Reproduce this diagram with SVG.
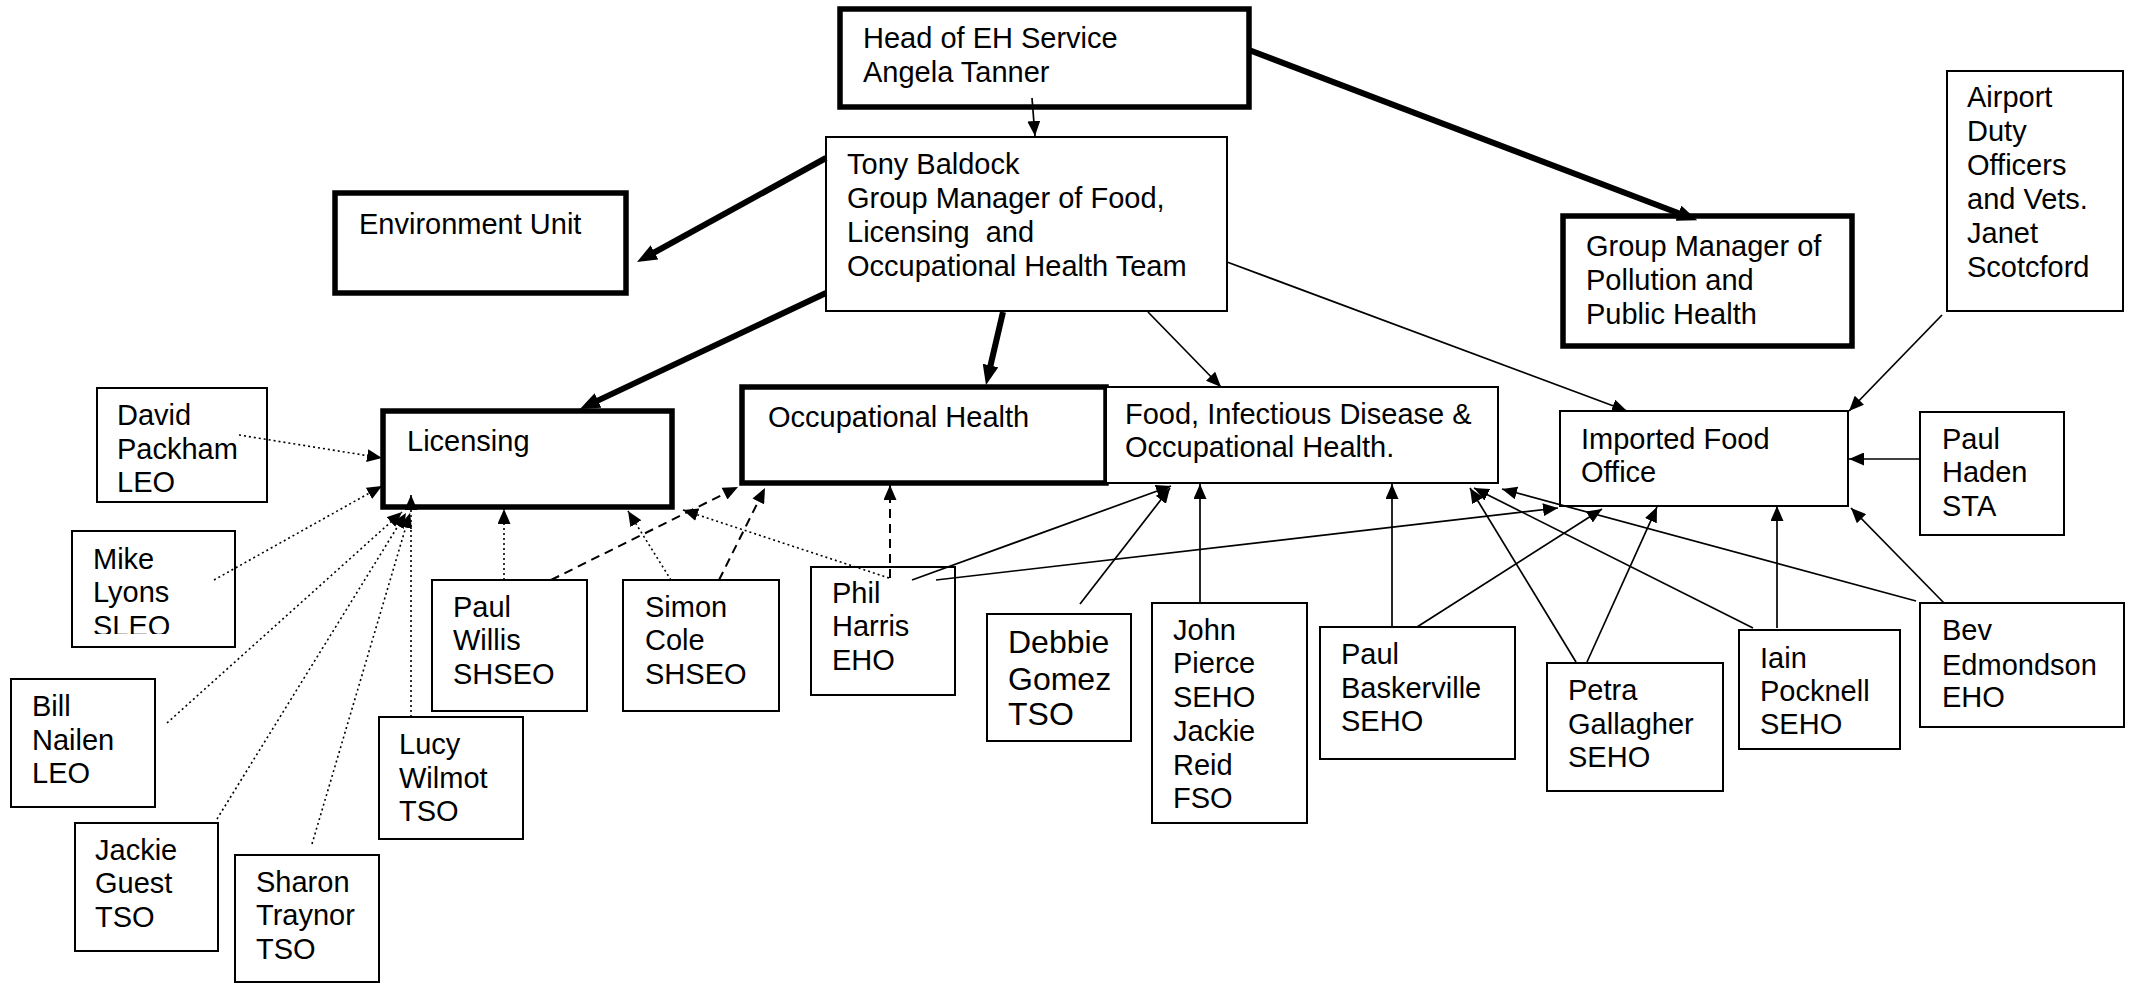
<svg xmlns="http://www.w3.org/2000/svg" width="2132" height="984" viewBox="0 0 2132 984">
<style>
.box{fill:#fff;stroke:#000;stroke-width:2}
.thick{stroke-width:5.5}
text{font-family:"Liberation Sans",Arial,sans-serif;font-size:29px;fill:#000;white-space:pre}
.big{font-size:32px}
.c{fill:none;stroke:#000;stroke-width:1.7}
.th{stroke-width:6}
.dot{stroke-dasharray:2 3;stroke-width:1.6}
.dash{stroke-dasharray:9 6;stroke-width:2}
</style>
<defs>
<marker id="a" markerUnits="userSpaceOnUse" markerWidth="15" markerHeight="13" refX="15" refY="6.5" orient="auto"><path d="M0,0 L15,6.5 L0,13 z"/></marker>
<marker id="b" markerUnits="userSpaceOnUse" markerWidth="20" markerHeight="16" refX="8" refY="8" orient="auto"><path d="M0,0 L20,8 L0,16 z"/></marker>
<clipPath id="mikeclip"><rect x="72" y="531" width="163" height="103"/></clipPath>
</defs>
<rect width="2132" height="984" fill="#fff"/>
<g id="head"><rect class="box thick" x="840" y="9" width="409" height="98"/><text x="863" y="48">Head of EH Service</text><text x="863" y="82">Angela Tanner</text></g>
<g id="tony"><rect class="box" x="826" y="137" width="401" height="174"/><text x="847" y="174">Tony Baldock</text><text x="847" y="208">Group Manager of Food,</text><text x="847" y="242">Licensing  and</text><text x="847" y="276">Occupational Health Team</text></g>
<g id="env"><rect class="box thick" x="335" y="193" width="291" height="100"/><text x="359" y="234">Environment Unit</text></g>
<g id="gmpollution"><rect class="box thick" x="1563" y="216" width="289" height="130"/><text x="1586" y="256">Group Manager of</text><text x="1586" y="290">Pollution and</text><text x="1586" y="324">Public Health</text></g>
<g id="airport"><rect class="box" x="1947" y="71" width="176" height="240"/><text x="1967" y="107">Airport</text><text x="1967" y="141">Duty</text><text x="1967" y="175">Officers</text><text x="1967" y="209">and Vets.</text><text x="1967" y="243">Janet</text><text x="1967" y="277">Scotcford</text></g>
<g id="david"><rect class="box" x="97" y="388" width="170" height="114"/><text x="117" y="425">David</text><text x="117" y="459">Packham</text><text x="117" y="492">LEO</text></g>
<g id="licensing"><rect class="box thick" x="383" y="411" width="289" height="96"/><text x="407" y="451">Licensing</text></g>
<g id="mike"><rect class="box" x="72" y="531" width="163" height="116"/><g clip-path="url(#mikeclip)"><text x="93" y="569">Mike</text><text x="93" y="602">Lyons</text><text x="93" y="636">SLEO</text></g></g>
<g id="bill"><rect class="box" x="11" y="679" width="144" height="128"/><text x="32" y="716">Bill</text><text x="32" y="750">Nailen</text><text x="32" y="783">LEO</text></g>
<g id="jackieguest"><rect class="box" x="75" y="823" width="143" height="128"/><text x="95" y="860">Jackie</text><text x="95" y="893">Guest</text><text x="95" y="927">TSO</text></g>
<g id="sharon"><rect class="box" x="235" y="855" width="144" height="127"/><text x="256" y="892">Sharon</text><text x="256" y="925">Traynor</text><text x="256" y="959">TSO</text></g>
<g id="lucy"><rect class="box" x="379" y="717" width="144" height="122"/><text x="399" y="754">Lucy</text><text x="399" y="788">Wilmot</text><text x="399" y="821">TSO</text></g>
<g id="willis"><rect class="box" x="432" y="580" width="155" height="131"/><text x="453" y="617">Paul</text><text x="453" y="650">Willis</text><text x="453" y="684">SHSEO</text></g>
<g id="simon"><rect class="box" x="623" y="580" width="156" height="131"/><text x="645" y="617">Simon</text><text x="645" y="650">Cole</text><text x="645" y="684">SHSEO</text></g>
<g id="occhealth"><rect class="box thick" x="742" y="387" width="364" height="96"/><text x="768" y="427">Occupational Health</text></g>
<g id="food"><rect class="box" x="1106" y="387" width="392" height="96"/><text x="1125" y="424">Food, Infectious Disease &amp;</text><text x="1125" y="457">Occupational Health.</text></g>
<g id="phil"><rect class="box" x="811" y="567" width="144" height="128"/><text x="832" y="603">Phil</text><text x="832" y="636">Harris</text><text x="832" y="670">EHO</text></g>
<g id="debbie"><rect class="box" x="987" y="614" width="144" height="127"/><text class="big" x="1008" y="653">Debbie</text><text class="big" x="1008" y="690">Gomez</text><text class="big" x="1008" y="725">TSO</text></g>
<g id="john"><rect class="box" x="1152" y="603" width="155" height="220"/><text x="1173" y="640">John</text><text x="1173" y="673">Pierce</text><text x="1173" y="707">SEHO</text><text x="1173" y="741">Jackie</text><text x="1173" y="775">Reid</text><text x="1173" y="808">FSO</text></g>
<g id="baskerville"><rect class="box" x="1320" y="627" width="195" height="132"/><text x="1341" y="664">Paul</text><text x="1341" y="698">Baskerville</text><text x="1341" y="731">SEHO</text></g>
<g id="imported"><rect class="box" x="1560" y="411" width="288" height="95"/><text x="1581" y="449">Imported Food</text><text x="1581" y="482">Office</text></g>
<g id="haden"><rect class="box" x="1920" y="412" width="144" height="123"/><text x="1942" y="449">Paul</text><text x="1942" y="482">Haden</text><text x="1942" y="516">STA</text></g>
<g id="petra"><rect class="box" x="1547" y="663" width="176" height="128"/><text x="1568" y="700">Petra</text><text x="1568" y="734">Gallagher</text><text x="1568" y="767">SEHO</text></g>
<g id="iain"><rect class="box" x="1739" y="630" width="161" height="119"/><text x="1760" y="668">Iain</text><text x="1760" y="701">Pocknell</text><text x="1760" y="734">SEHO</text></g>
<g id="bev"><rect class="box" x="1920" y="603" width="204" height="124"/><text x="1942" y="640">Bev</text><text x="1942" y="675">Edmondson</text><text x="1942" y="707">EHO</text></g>
<g id="connectors">
<path class="c th" marker-end="url(#b)" d="M1249,50 L1686,216"/>
<path class="c th" marker-end="url(#b)" d="M826,158 L647.5,256.2"/>
<path class="c th" marker-end="url(#b)" d="M826,293 L590.8,403.9"/>
<path class="c th" marker-end="url(#b)" d="M1003,312 L988.7,373.3"/>
<path class="c" marker-end="url(#a)" d="M1032,98 L1035,136"/>
<path class="c" marker-end="url(#a)" d="M1148,312 L1221,387"/>
<path class="c" marker-end="url(#a)" d="M1227,262 L1627,411"/>
<path class="c" marker-end="url(#a)" d="M1942,315 L1849,411"/>
<path class="c" marker-end="url(#a)" d="M1920,459 L1849,459"/>
<path class="c" marker-end="url(#a)" d="M1777,628 L1777,506"/>
<path class="c" marker-end="url(#a)" d="M1944,603 L1851,508"/>
<path class="c" marker-end="url(#a)" d="M1916,601 L1502,489"/>
<path class="c" marker-end="url(#a)" d="M1753,628 L1474,488"/>
<path class="c" marker-end="url(#a)" d="M1576,662 L1470,488"/>
<path class="c" marker-end="url(#a)" d="M1587,662 L1657,507"/>
<path class="c" marker-end="url(#a)" d="M1417,627 L1602,509"/>
<path class="c" marker-end="url(#a)" d="M1392,627 L1392,484"/>
<path class="c" marker-end="url(#a)" d="M936,580 L1558,508"/>
<path class="c" marker-end="url(#a)" d="M912,580 L1171,486"/>
<path class="c" marker-end="url(#a)" d="M1080,604 L1170,488"/>
<path class="c" marker-end="url(#a)" d="M1200,603 L1200,484"/>
<path class="c dash" marker-end="url(#a)" d="M890,578 L890,485"/>
<path class="c dash" marker-end="url(#a)" d="M719,580 L765,488"/>
<path class="c dash" marker-end="url(#a)" d="M551,580 L738,487"/>
<path class="c dot" marker-end="url(#a)" d="M889,578 L683,510"/>
<path class="c dot" marker-end="url(#a)" d="M671,580 L628,511"/>
<path class="c dot" marker-end="url(#a)" d="M504,580 L504,509"/>
<path class="c dot" marker-end="url(#a)" d="M411,717 L411,495"/>
<path class="c dot" marker-end="url(#a)" d="M239,435 L382,458"/>
<path class="c dot" marker-end="url(#a)" d="M214,580 L382,486"/>
<path class="c dot" marker-end="url(#a)" d="M167,723 L402,512"/>
<path class="c dot" marker-end="url(#a)" d="M217,819 L406,513"/>
<path class="c dot" marker-end="url(#a)" d="M312,844 L410,513"/>
</g>
</svg>
